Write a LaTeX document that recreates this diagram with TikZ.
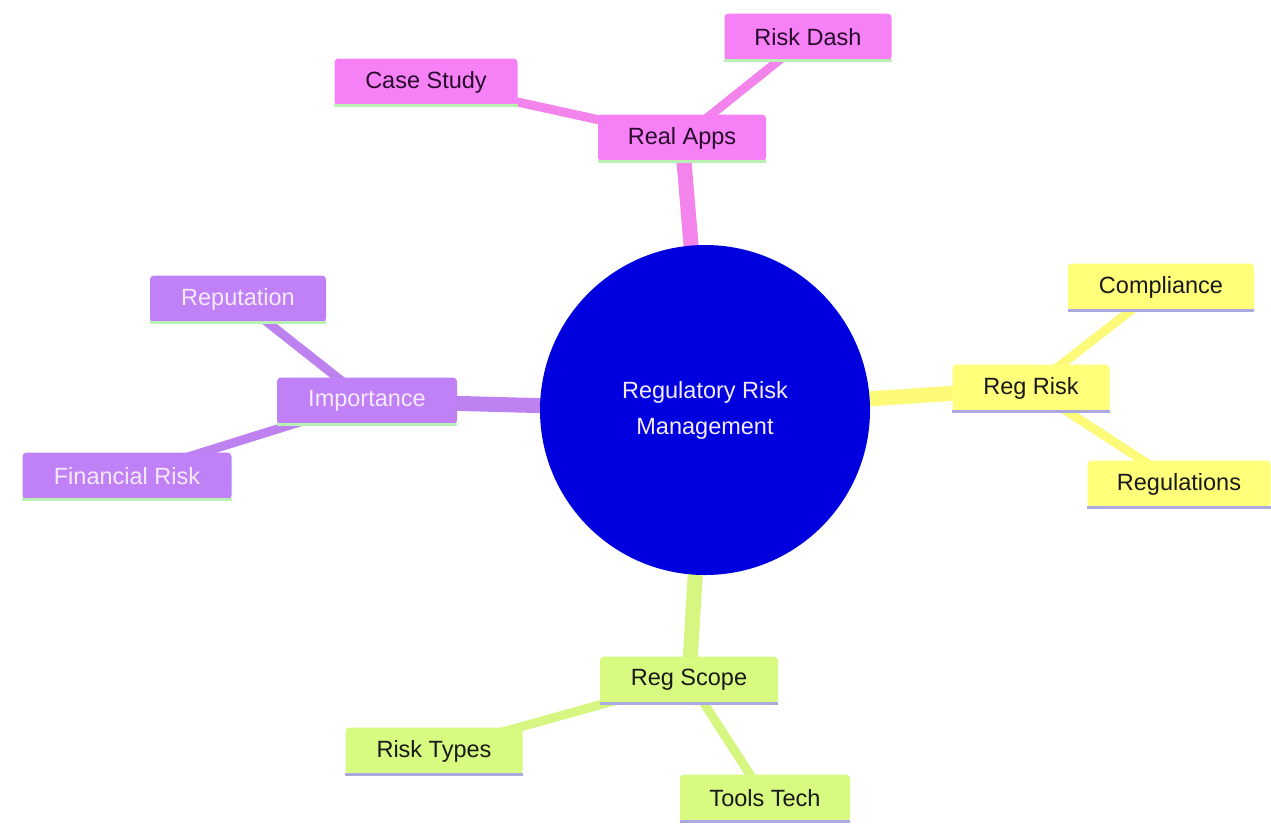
\documentclass[tikz,border=0pt]{standalone}
\usepackage{fontspec}
\setmainfont{Liberation Sans}
\usetikzlibrary{backgrounds}
\definecolor{pinkF}{RGB}{246,128,246}
\definecolor{pinkE}{RGB}{242,132,236}
\definecolor{purpF}{RGB}{192,128,246}
\definecolor{purpE}{RGB}{190,130,240}
\definecolor{yelF}{RGB}{255,255,122}
\definecolor{yelE}{RGB}{252,250,120}
\definecolor{grnF}{RGB}{215,250,128}
\definecolor{grnE}{RGB}{214,246,130}
\definecolor{lineG}{RGB}{185,240,180}
\definecolor{lineL}{RGB}{170,170,225}
\definecolor{hubF}{RGB}{0,0,222}
\definecolor{txtP}{RGB}{40,10,45}
\definecolor{txtW}{RGB}{245,235,255}
\definecolor{txtK}{RGB}{25,25,25}
\tikzset{
  mm/.style 2 args={fill=#1, rounded corners=4pt, minimum height=47pt, inner sep=0pt,
    font=\fontsize{23.5}{28}\selectfont,
    append after command={\pgfextra{\let\mmnode\tikzlastnode}
      (\mmnode.south west) edge[draw=#2, line width=3pt, sharp corners] (\mmnode.south east)}},
  pinkbox/.style={mm={pinkF}{lineG}, text=txtP},
  purpbox/.style={mm={purpF}{lineG}, text=txtW},
  yelbox/.style={mm={yelF}{lineL}, text=txtK},
  grnbox/.style={mm={grnF}{lineL}, text=txtK},
  hub/.style={circle, fill=hubF, minimum size=330pt, inner sep=0pt, text=txtW, align=center,
    font=\fontsize{23.5}{36}\selectfont},
  main/.style={line width=15pt},
  sub/.style={line width=9pt}
}
\begin{document}
\begin{tikzpicture}[x=1pt,y=-1pt]
\useasboundingbox (0,0) rectangle (1271,823);
\node[hub] (hub) at (705,410) {Regulatory Risk\\Management};
\node[pinkbox, minimum width=168pt] (apps) at (682,138) {Real Apps};
\node[pinkbox, minimum width=183pt] (case) at (426,82) {Case Study};
\node[pinkbox, minimum width=167pt] (dash) at (808,37) {Risk Dash};
\node[yelbox, minimum width=157pt] (regrisk) at (1031,388) {Reg Risk};
\node[yelbox, minimum width=186pt] (comp) at (1161,287) {Compliance};
\node[yelbox, minimum width=183pt] (regs) at (1179,484) {Regulations};
\node[purpbox, minimum width=180pt] (imp) at (367,401) {Importance};
\node[purpbox, minimum width=176pt] (rep) at (238,299) {Reputation};
\node[purpbox, minimum width=209pt] (fin) at (127,476) {Financial Risk};
\node[grnbox, minimum width=178pt] (scope) at (689,680) {Reg Scope};
\node[grnbox, minimum width=177pt] (types) at (434,751) {Risk Types};
\node[grnbox, minimum width=170pt] (tools) at (765,798) {Tools Tech};
\begin{scope}[on background layer]
\fill[white] (0,0) rectangle (1271,823);
\draw[main, pinkE] (hub.center) -- (apps.center);
\draw[main, yelE] (hub.center) -- (regrisk.center);
\draw[main, purpE] (hub.center) -- (imp.center);
\draw[main, grnE] (hub.center) -- (scope.center);
\draw[sub, pinkE] (apps.center) -- (case.center);
\draw[sub, pinkE] (apps.center) -- (dash.center);
\draw[sub, yelE] (regrisk.center) -- (comp.center);
\draw[sub, yelE] (regrisk.center) -- (regs.center);
\draw[sub, purpE] (imp.center) -- (rep.center);
\draw[sub, purpE] (imp.center) -- (fin.center);
\draw[sub, grnE] (scope.center) -- (types.center);
\draw[sub, grnE] (scope.center) -- (tools.center);
\end{scope}
\end{tikzpicture}
\end{document}
